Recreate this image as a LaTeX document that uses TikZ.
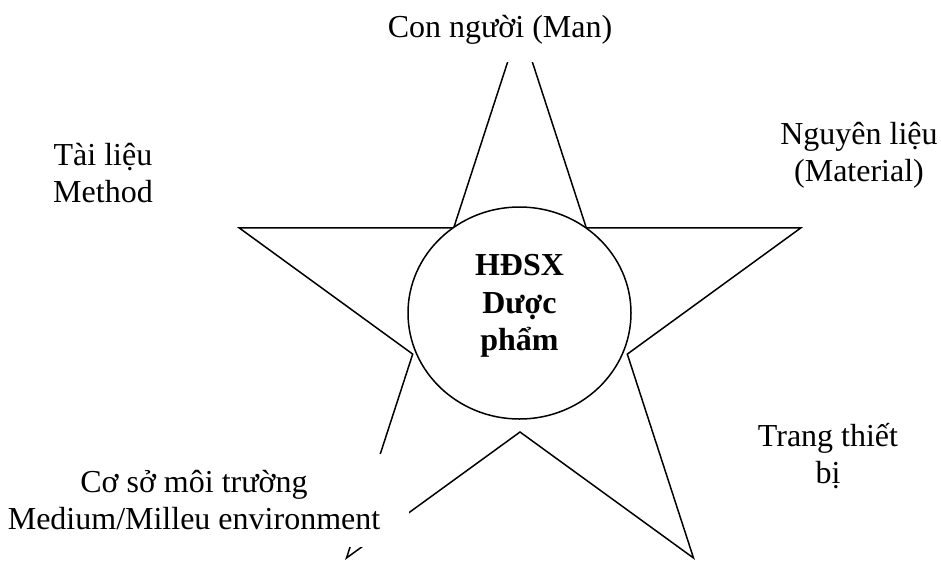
\documentclass[tikz,border=0pt]{standalone}
\usepackage{fontspec}
\setmainfont{Liberation Serif}
\usetikzlibrary{shapes.geometric}
\begin{document}
\begin{tikzpicture}[x=1pt,y=-1pt,
  starline/.style={draw=black, line width=1.5pt, line join=miter},
  lbl/.style={align=center, font=\fontsize{32}{37}\selectfont, inner sep=0pt},
  corelbl/.style={align=center, font=\fontsize{32}{37.5}\selectfont\bfseries, inner sep=0pt},
  cover/.style={fill=white}]
\useasboundingbox (0,0) rectangle (941,562);
% star vertices
\coordinate (A) at (520,24);
\coordinate (B) at (586.3,227.9);
\coordinate (C) at (800.8,227.9);
\coordinate (D) at (627.3,354.1);
\coordinate (E) at (693.5,558.0);
\coordinate (F) at (520,432.0);
\coordinate (G) at (346.5,558.0);
\coordinate (H) at (412.7,354.1);
\coordinate (I) at (239.2,227.9);
\coordinate (J) at (453.7,227.9);
\draw[starline] (A) -- (B) -- (C) -- (D) -- (E) -- (F) -- (G) -- (H) -- (I) -- (J) -- cycle;
% covering labels
\node[lbl, cover, anchor=base, inner ysep=18pt, inner xsep=4pt] (man) at (500,37) {Con người (Man)};
\node[lbl, cover, minimum width=430pt, minimum height=93pt] (env) at (194,500) {Cơ sở môi trường\\Medium/Milleu environment};
% centre
\node[ellipse, draw=black, line width=1.5pt, fill=white, minimum width=223pt, minimum height=212pt, inner sep=0pt] (core) at (519.5,313) {};
\node[corelbl] (coretxt) at (519.5,306) {HĐSX\\Dược\\phẩm};
% other labels
\node[lbl] (method) at (103,173) {Tài liệu\\Method};
\node[lbl] (material) at (859,155) {Nguyên liệu\\(Material)};
\node[lbl] (equip) at (828,456) {Trang thiết\\bị};
\end{tikzpicture}
\end{document}
